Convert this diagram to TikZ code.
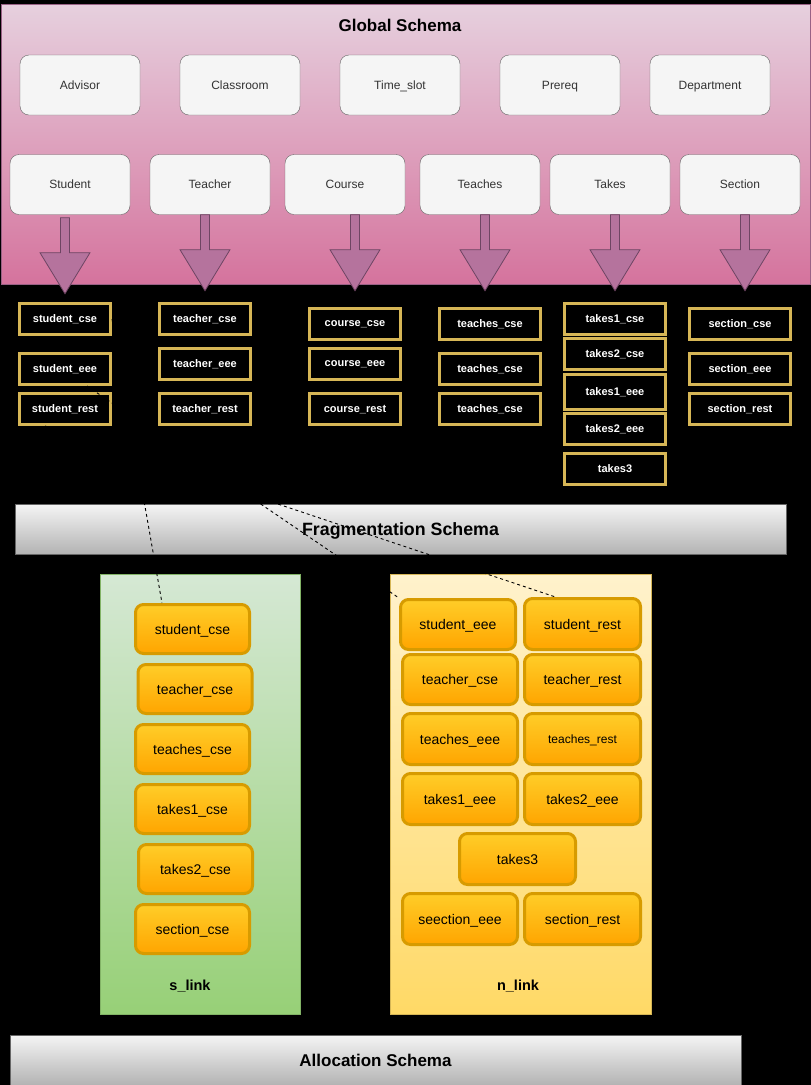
\documentclass[tikz,border=0pt]{standalone}
\usepackage{fontspec}
\setmainfont{Liberation Sans}
\usetikzlibrary{calc}
\definecolor{pinktop}{HTML}{E6D0DE}
\definecolor{pinkbot}{HTML}{D5739D}
\definecolor{pinkline}{HTML}{996185}
\definecolor{arrowfill}{HTML}{B5739D}
\definecolor{arrowline}{HTML}{6E4563}
\definecolor{boxfill}{HTML}{F5F5F5}
\definecolor{boxline}{HTML}{666666}
\definecolor{boxtext}{HTML}{333333}
\definecolor{gold}{HTML}{D6B656}
\definecolor{bartop}{HTML}{F5F5F5}
\definecolor{barbot}{HTML}{B3B3B3}
\definecolor{greentop}{HTML}{D5E8D4}
\definecolor{greenbot}{HTML}{97D077}
\definecolor{greenline}{HTML}{82B366}
\definecolor{yellowtop}{HTML}{FFF2CC}
\definecolor{yellowbot}{HTML}{FFD966}
\definecolor{orangetop}{HTML}{FFCD28}
\definecolor{orangebot}{HTML}{FFA500}
\definecolor{orangeline}{HTML}{D79B00}
\begin{document}
\begin{tikzpicture}[x=1pt,y=-1pt,
  entity/.style={draw=boxline, fill=boxfill, rounded corners=9, minimum width=120, minimum height=60, inner sep=0, text depth=0pt, text=boxtext, font=\fontsize{12}{14}\selectfont},
  fragbox/.style={draw=gold, line width=3, fill=black, text=white, text depth=0pt, font=\bfseries\fontsize{11}{13}\selectfont, minimum width=91, minimum height=31, inner sep=0},
  fragwide/.style={fragbox, minimum width=101},
  orangebox/.style={draw=orangeline, line width=3, top color=orangetop, bottom color=orangebot, rounded corners=8, minimum width=114, minimum height=49, inner sep=0, text depth=0pt, font=\fontsize{14}{16}\selectfont},
  schemabar/.style={draw=boxline, top color=bartop, bottom color=barbot, inner sep=0, minimum height=50, text depth=0pt, font=\bfseries\fontsize{17}{20}\selectfont},
  title/.style={text depth=0pt, font=\bfseries\fontsize{17}{20}\selectfont},
  linklabel/.style={text depth=0pt, font=\bfseries\fontsize{14.5}{17}\selectfont},
  conn/.style={draw=black, dash pattern=on 3pt off 3pt, line width=0.9},
  blockarrow/.pic={\filldraw[fill=arrowfill, draw=arrowline, line width=0.8]
     (-4.5,0) -- (-4.5,35) -- (-25,35) -- (0,76) -- (25,35) -- (4.5,35) -- (4.5,0) -- cycle;}
]
\useasboundingbox (0,0) rectangle (811,1085);
\fill[black] (0,0) rectangle (811,1085);

% Global schema
\node[draw=pinkline, top color=pinktop, bottom color=pinkbot, minimum width=809, minimum height=280, inner sep=0] (global) at (405.5,144) {};
\node[title] (globaltitle) at (400,25) {Global Schema};

\node[entity] (advisor) at (80,85) {Advisor};
\node[entity] (classroom) at (240,85) {Classroom};
\node[entity] (timeslot) at (400,85) {Time\_slot};
\node[entity] (prereq) at (560,85) {Prereq};
\node[entity] (department) at (710,85) {Department};

\node[entity] (student) at (70,184.5) {Student};
\node[entity] (teacher) at (210,184.5) {Teacher};
\node[entity] (course) at (345,184.5) {Course};
\node[entity] (teaches) at (480,184.5) {Teaches};
\node[entity] (takes) at (610,184.5) {Takes};
\node[entity] (section) at (740,184.5) {Section};

\pic at ($(student.south)+(-5,3)$) {blockarrow};
\pic at ($(teacher.south)+(-5,0)$) {blockarrow};
\pic at ($(course.south)+(10,0)$) {blockarrow};
\pic at ($(teaches.south)+(5,0)$) {blockarrow};
\pic at ($(takes.south)+(5,0)$) {blockarrow};
\pic at ($(section.south)+(5,0)$) {blockarrow};

% Fragments
\node[fragbox] (fstudentcse) at (65,319) {student\_cse};
\node[fragbox] (fstudenteee) at (65,369) {student\_eee};
\node[fragbox] (fstudentrest) at (65,409) {student\_rest};
\node[fragbox] (fteachercse) at (205,319) {teacher\_cse};
\node[fragbox] (fteachereee) at (205,364) {teacher\_eee};
\node[fragbox] (fteacherrest) at (205,409) {teacher\_rest};
\node[fragbox] (fcoursecse) at (355,324) {course\_cse};
\node[fragbox] (fcourseeee) at (355,364) {course\_eee};
\node[fragbox] (fcourserest) at (355,409) {course\_rest};
\node[fragwide] (fteachesa) at (490,324) {teaches\_cse};
\node[fragwide] (fteachesb) at (490,369) {teaches\_cse};
\node[fragwide] (fteachesc) at (490,409) {teaches\_cse};
\node[fragwide] (ftakesonecse) at (615,319) {takes1\_cse};
\node[fragwide] (ftakestwocse) at (615,354) {takes2\_cse};
\node[fragwide, minimum height=35] (ftakesoneeee) at (615,392) {takes1\_eee};
\node[fragwide] (ftakestwoeee) at (615,429) {takes2\_eee};
\node[fragwide] (ftakesthree) at (615,469) {takes3};
\node[fragwide] (fsectioncse) at (740,324) {section\_cse};
\node[fragwide] (fsectioneee) at (740,369) {section\_eee};
\node[fragwide] (fsectionrest) at (740,409) {section\_rest};

% Fragmentation schema bar
\node[schemabar, minimum width=771] (fragbar) at (400.5,529) {};

% s_link
\node[draw=greenline, top color=greentop, bottom color=greenbot, minimum width=200, minimum height=440, inner sep=0] (slink) at (200,794) {};
\node[linklabel] (slinklabel) at (190,985) {s\_link};
\node[orangebox] (sstudentcse) at (192.5,629) {student\_cse};
\node[orangebox] (steachercse) at (195,689) {teacher\_cse};
\node[orangebox] (steachescse) at (192.5,749) {teaches\_cse};
\node[orangebox] (stakesonecse) at (192.5,809) {takes1\_cse};
\node[orangebox] (stakestwocse) at (195.5,869) {takes2\_cse};
\node[orangebox] (ssectioncse) at (192.5,929) {section\_cse};

% n_link
\node[draw=gold, top color=yellowtop, bottom color=yellowbot, minimum width=261, minimum height=440, inner sep=0] (nlink) at (520.5,794) {};
\node[linklabel] (nlinklabel) at (518,985) {n\_link};
\node[orangebox, minimum width=115, minimum height=50] (nstudenteee) at (458,624.5) {student\_eee};
\node[orangebox, minimum width=116, minimum height=51] (nstudentrest) at (582.5,624) {student\_rest};
\node[orangebox, minimum width=115, minimum height=50] (nteachercse) at (460,679.5) {teacher\_cse};
\node[orangebox, minimum width=116, minimum height=50] (nteacherrest) at (582.5,679.5) {teacher\_rest};
\node[orangebox, minimum width=115, minimum height=51] (nteacheseee) at (460,739) {teaches\_eee};
\node[orangebox, minimum width=116, minimum height=51, font=\fontsize{12}{14}\selectfont] (nteachesrest) at (582.5,739) {teaches\_rest};
\node[orangebox, minimum width=115, minimum height=51] (ntakesoneeee) at (460,799) {takes1\_eee};
\node[orangebox, minimum width=116, minimum height=51] (ntakestwoeee) at (582.5,799) {takes2\_eee};
\node[orangebox, minimum width=116, minimum height=51] (ntakesthree) at (517.5,859) {takes3};
\node[orangebox, minimum width=115, minimum height=51] (nsectioneee) at (460,919) {seection\_eee};
\node[orangebox, minimum width=116, minimum height=51] (nsectionrest) at (582.5,919) {section\_rest};

% Allocation schema bar
\node[schemabar, minimum width=731] (allocbar) at (375.5,1060) {Allocation Schema};

% Dashed allocation links
\draw[conn] (fstudentcse.east) -- ($(sstudentcse.north west)+(28,0)$);
\draw[conn] ($(fstudenteee.south)+(22,0)$) -- (nstudenteee.north west);
\draw[conn] ($(fstudentrest.south)+(-20,0)$) -- ($(nstudentrest.north)+(-27,0)$);

\node[title, font=\bfseries\fontsize{17.8}{20}\selectfont] (fragtitle) at (fragbar.center) {Fragmentation Schema};
\end{tikzpicture}
\end{document}
